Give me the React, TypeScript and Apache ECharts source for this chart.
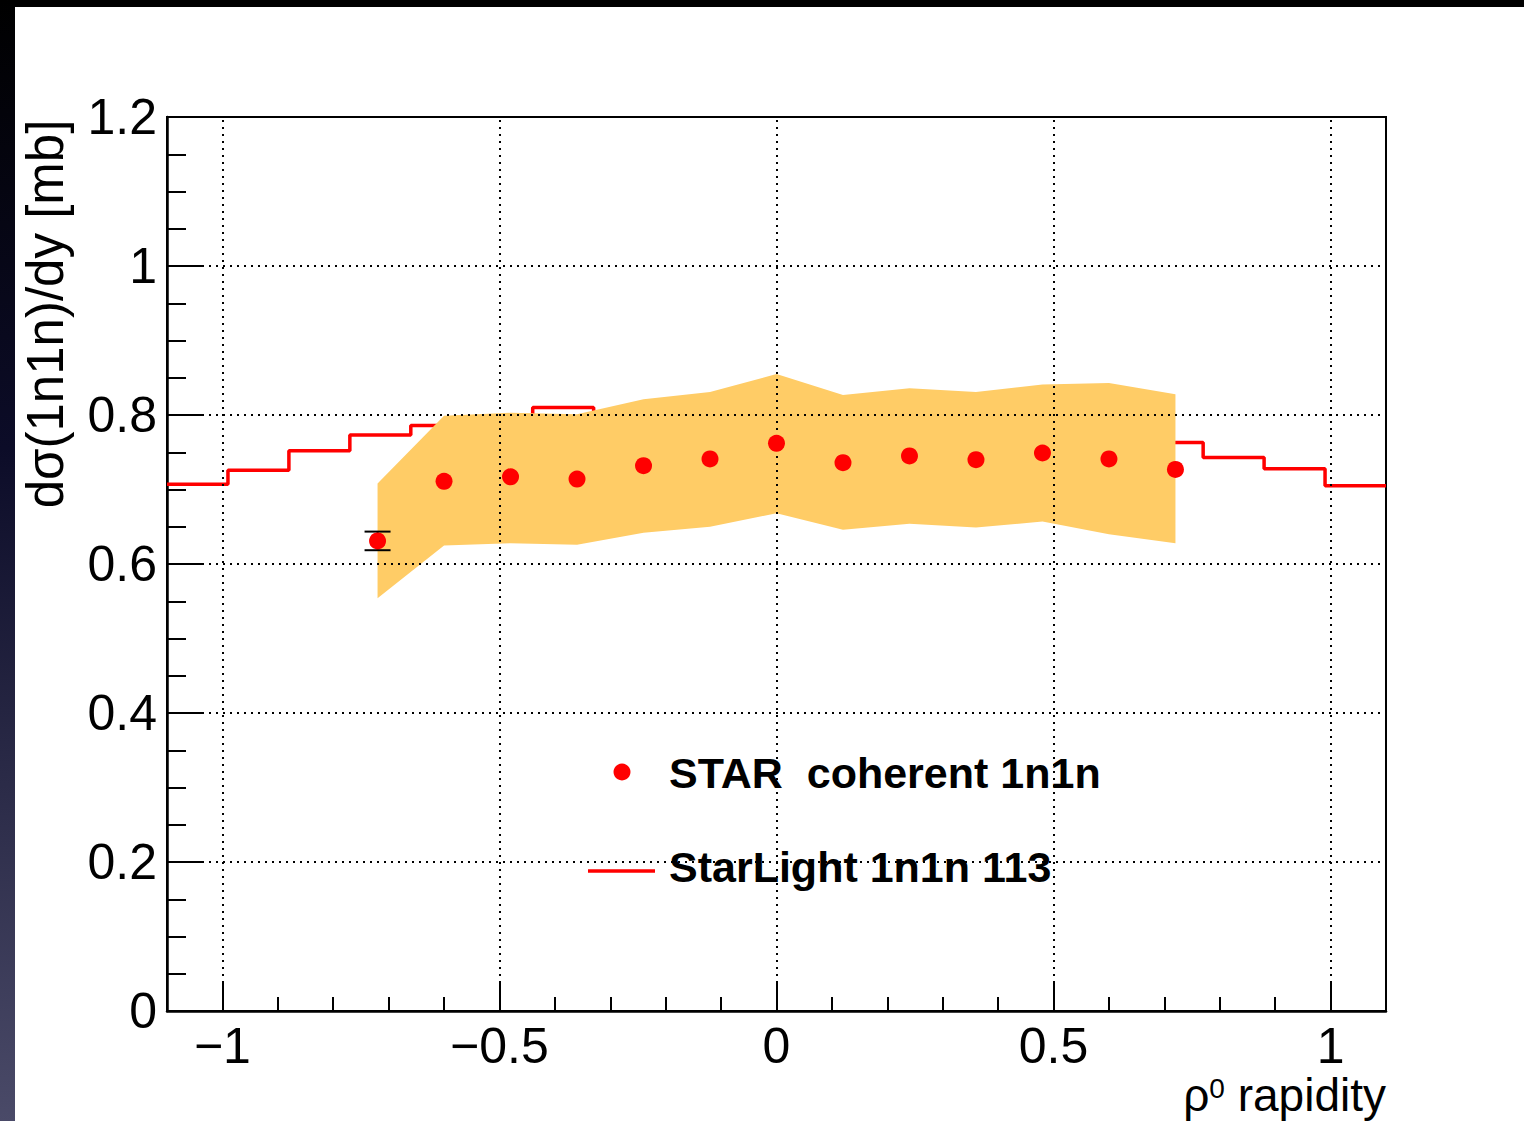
import React, { useEffect, useRef } from "react";
import * as echarts from "echarts";

const FONT = "'Liberation Sans', Arial, Helvetica, sans-serif";

// STAR coherent 1n1n data points
const pointX = [-0.72, -0.6, -0.48, -0.36, -0.24, -0.12, 0, 0.12, 0.24, 0.36, 0.48, 0.6, 0.72];
const pointY = [0.631, 0.711, 0.717, 0.714, 0.732, 0.741, 0.762, 0.736, 0.745, 0.74, 0.749, 0.741, 0.727];
const statErr = [0.0125, 0.006, 0.006, 0.006, 0.006, 0.006, 0.006, 0.006, 0.006, 0.006, 0.006, 0.006, 0.006];
// systematic band
const sysHigh = [0.708, 0.799, 0.803, 0.801, 0.821, 0.831, 0.855, 0.827, 0.836, 0.831, 0.841, 0.843, 0.828];
const sysLow = [0.554, 0.625, 0.628, 0.626, 0.642, 0.65, 0.668, 0.646, 0.654, 0.649, 0.657, 0.64, 0.628];

// StarLight histogram
const starlightEdges = [-1.1, -0.99, -0.88, -0.77, -0.66, -0.55, -0.44, -0.33, -0.22, -0.11, 0, 0.11, 0.22, 0.33, 0.44, 0.55, 0.66, 0.77, 0.88, 0.99, 1.1];
const starlightValues = [0.707, 0.726, 0.752, 0.773, 0.786, 0.793, 0.81, 0.798, 0.806, 0.81, 0.81, 0.806, 0.802, 0.798, 0.792, 0.785, 0.763, 0.743, 0.728, 0.705];

// axis ticks
const xMajorTicks = [-1, -0.5, 0, 0.5, 1];
const yGridValues = [0.2, 0.4, 0.6, 0.8, 1.0];

const fmtX = (v: number) => {
  const r = Math.round(v * 100) / 100;
  if (r < 0) return "\u2212" + String(-r);
  return String(r);
};

export default function App() {
  const ref = useRef<HTMLDivElement>(null);
  useEffect(() => {
    const chart = echarts.init(ref.current!, null, { renderer: "svg", width: 1524, height: 1121 });
    const stepData = starlightEdges.map((e, i) => [e, starlightValues[Math.min(i, starlightValues.length - 1)]]);
    const pointData = pointX.map((x, i) => [x, pointY[i], statErr[i]]);
    const option: any = {
      animation: false,
      backgroundColor: "#ffffff",
      grid: { left: 167, top: 117, right: 138, bottom: 110, show: true, borderColor: "#000", borderWidth: 2, backgroundColor: "transparent" },
      xAxis: [
        {
          type: "value", min: -1.1, max: 1.1, interval: 0.1, position: "bottom",
          axisLine: { show: true, onZero: false, lineStyle: { color: "#000", width: 2.5 } },
          axisTick: { show: true, inside: true, length: 14, lineStyle: { color: "#000", width: 2 } },
          axisLabel: { show: false },
          splitLine: { show: false },
        },
        {
          type: "value", min: -1.1, max: 1.1, position: "bottom", offset: 0,
          axisLine: { show: false, onZero: false },
          axisTick: { show: true, inside: true, length: 28, customValues: xMajorTicks, lineStyle: { color: "#000", width: 2 } },
          axisLabel: { show: true, customValues: xMajorTicks, formatter: fmtX, fontSize: 50, lineHeight: 40, color: "#000", fontFamily: FONT, margin: 15 },
          splitLine: { show: false },
        },
      ],
      yAxis: {
        type: "value", min: 0, max: 1.2, interval: 0.2, position: "left",
        axisLine: { show: true, onZero: false, lineStyle: { color: "#000", width: 2.5 } },
        axisTick: { show: true, inside: true, length: 36, lineStyle: { color: "#000", width: 2 } },
        minorTick: { show: true, splitNumber: 4, length: 19, lineStyle: { color: "#000", width: 2 } },
        axisLabel: { fontSize: 50, color: "#000", fontFamily: FONT, margin: 10 },
        splitLine: { show: false },
        minorSplitLine: { show: false },
      },
      series: [
        {
          name: "StarLight 1n1n 113",
          type: "line",
          xAxisIndex: 0,
          step: "end",
          data: stepData,
          showSymbol: false,
          symbol: "none",
          lineStyle: { color: "#ff0000", width: 3.5 },
          silent: true,
          z: 2,
          markLine: {
            silent: true,
            symbol: ["none", "none"],
            label: { show: false },
            lineStyle: { color: "#000", type: [2, 5], width: 2 },
            emphasis: { disabled: true },
            data: [
              ...xMajorTicks.map((x) => ({ xAxis: x })),
              ...yGridValues.map((y) => ({ yAxis: y })),
            ],
          },
        },
        {
          name: "sys",
          type: "custom",
          xAxisIndex: 0,
          z: 3,
          silent: true,
          data: [[0, 0.7]],
          renderItem: (params: any, api: any) => {
            if (params.dataIndex !== 0) return null;
            const pts: number[][] = [];
            pointX.forEach((x, i) => pts.push(api.coord([x, sysHigh[i]])));
            for (let i = pointX.length - 1; i >= 0; i--) pts.push(api.coord([pointX[i], sysLow[i]]));
            return { type: "polygon", shape: { points: pts }, style: { fill: "#ffcc66", stroke: "none" } };
          },
        },
        {
          name: "err",
          type: "custom",
          xAxisIndex: 0,
          z: 4,
          silent: true,
          data: pointData,
          renderItem: (params: any, api: any) => {
            const x = api.value(0);
            const y = api.value(1);
            const e = api.value(2);
            const top = api.coord([x, y + e]);
            const bot = api.coord([x, y - e]);
            if ((bot[1] - top[1]) / 2 < 8.8) return null;
            const hw = 13;
            const st = { stroke: "#000", lineWidth: 2 };
            return {
              type: "group",
              children: [
                { type: "line", shape: { x1: top[0], y1: top[1], x2: bot[0], y2: bot[1] }, style: st },
                { type: "line", shape: { x1: top[0] - hw, y1: top[1], x2: top[0] + hw, y2: top[1] }, style: st },
                { type: "line", shape: { x1: bot[0] - hw, y1: bot[1], x2: bot[0] + hw, y2: bot[1] }, style: st },
              ],
            };
          },
        },
        {
          name: "STAR  coherent 1n1n",
          type: "scatter",
          xAxisIndex: 0,
          z: 5,
          data: pointData.map((d) => [d[0], d[1]]),
          symbol: "circle",
          symbolSize: 17,
          itemStyle: { color: "#ff0000", opacity: 1 },
          silent: true,
        },
      ],
      graphic: [
        { type: "rect", left: 0, top: 0, shape: { x: 0, y: 0, width: 1524, height: 7 }, style: { fill: "#000" }, silent: true },
        {
          type: "rect", left: 0, top: 0, shape: { x: 0, y: 0, width: 15, height: 1121 },
          style: {
            fill: new echarts.graphic.LinearGradient(0, 0, 0, 1, [
              { offset: 0, color: "#000000" },
              { offset: 0.4, color: "#0c0c28" },
              { offset: 1, color: "#4a4a68" },
            ]),
          },
          silent: true,
        },
        {
          type: "text", x: 45, y: 314, rotation: Math.PI / 2, silent: true,
          style: { text: "d\u03c3(1n1n)/dy [mb]", fontSize: 51, fontFamily: FONT, fill: "#000", align: "center", verticalAlign: "middle" },
        },
        {
          type: "text", x: 1386, y: 1095, silent: true,
          style: {
            text: "{g|\u03c1}{s|0}{r| rapidity}",
            align: "right", verticalAlign: "middle",
            rich: {
              g: { fontSize: 46, fontFamily: FONT, fill: "#000", lineHeight: 42 },
              s: { fontSize: 28, fontFamily: FONT, fill: "#000", verticalAlign: "top", lineHeight: 42 },
              r: { fontSize: 46, fontFamily: FONT, fill: "#000", lineHeight: 42 },
            },
          },
        },
        { type: "circle", shape: { cx: 622, cy: 772, r: 8.5 }, style: { fill: "#ff0000" }, silent: true },
        {
          type: "text", x: 669, y: 773, silent: true,
          style: { text: "STAR\u00a0 coherent 1n1n", fontSize: 43, fontWeight: "bold", fontFamily: FONT, fill: "#000", align: "left", verticalAlign: "middle" },
        },
        { type: "line", shape: { x1: 588, y1: 871, x2: 655, y2: 871 }, style: { stroke: "#ff0000", lineWidth: 3.5 }, silent: true },
        {
          type: "text", x: 669, y: 867, silent: true,
          style: { text: "StarLight 1n1n 113", fontSize: 43, fontWeight: "bold", fontFamily: FONT, fill: "#000", align: "left", verticalAlign: "middle" },
        },
      ],
    };
    chart.setOption(option);
    return () => chart.dispose();
  }, []);
  return (
    <div
      ref={ref}
      style={{ position: "fixed", left: 0, top: 0, width: 1524, height: 1121, background: "#fff" }}
    />
  );
}
